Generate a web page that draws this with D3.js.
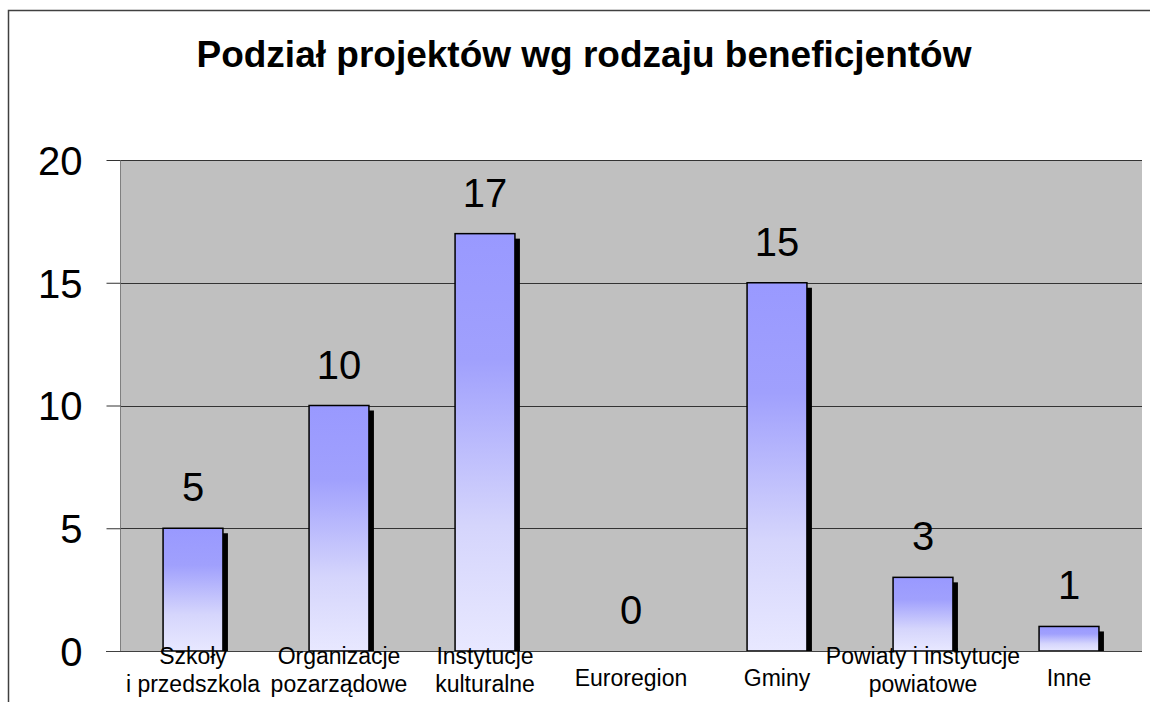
<!DOCTYPE html>
<html>
<head>
<meta charset="utf-8">
<script src="https://cdn.jsdelivr.net/npm/d3@7"></script>
<style>
  body { margin: 0; background: #fff; }
  svg { display: block; font-family: "Liberation Sans", Arial, sans-serif; }
</style>
</head>
<body>
<div id="chart"></div>
<script>
// chart data
var title = "Podział projektów wg rodzaju beneficjentów";
var categories = ["Szkoły\ni przedszkola", "Organizacje\npozarządowe", "Instytucje\nkulturalne",
  "Euroregion", "Gminy", "Powiaty i instytucje\npowiatowe", "Inne"];
var values = [5, 10, 17, 0, 15, 3, 1];
var yTicks = [0, 5, 10, 15, 20];

var data = categories.map((c, i) => ({cat: c, value: values[i]}));

var width = 1150, height = 702;
var margin = ({top: 160, right: 8, bottom: 51, left: 120});

var svg = d3.select("#chart").append("svg")
  .attr("width", width)
  .attr("height", height);

// outer frame (runs off the right and bottom edge)
svg.append("rect")
  .attr("x", 8.5).attr("y", 10.5)
  .attr("width", width).attr("height", height)
  .attr("fill", "none")
  .attr("stroke", "#404040")
  .attr("stroke-width", 1.5);

svg.append("text")
  .attr("x", 584).attr("y", 67)
  .attr("text-anchor", "middle")
  .attr("font-size", 37)
  .attr("font-weight", "bold")
  .text(title);

var x = d3.scaleBand()
  .domain(categories)
  .range([margin.left, width - margin.right])
  .paddingInner(0.59)
  .paddingOuter(0.295);

var y = d3.scaleLinear()
  .domain([0, 20])
  .range([height - margin.bottom, margin.top]);

// gradient for bars
var grad = svg.append("defs").append("linearGradient")
  .attr("id", "barGrad")
  .attr("x1", 0).attr("y1", 0).attr("x2", 0).attr("y2", 1);
grad.append("stop").attr("offset", "0%").attr("stop-color", "#9999ff");
grad.append("stop").attr("offset", "30%").attr("stop-color", "#a0a0fd");
grad.append("stop").attr("offset", "70%").attr("stop-color", "#d5d5fc");
grad.append("stop").attr("offset", "100%").attr("stop-color", "#e8e8ff");

// plot area
svg.append("rect")
  .attr("x", margin.left).attr("y", margin.top)
  .attr("width", width - margin.right - margin.left)
  .attr("height", y(0) - margin.top)
  .attr("fill", "#c0c0c0");

// gridlines
svg.append("g")
  .selectAll("line")
  .data(yTicks.filter(d => d > 0))
  .join("line")
    .attr("x1", margin.left).attr("x2", width - margin.right)
    .attr("y1", d => Math.round(y(d)) + 0.5).attr("y2", d => Math.round(y(d)) + 0.5)
    .attr("stroke", "#333");

// y axis
var yAxis = svg.append("g")
  .attr("transform", `translate(${margin.left + 0.5},0)`)
  .call(d3.axisLeft(y).tickValues(yTicks).tickSize(14).tickPadding(24));
yAxis.select(".domain").attr("stroke", "#808080").attr("d", `M0,${y(20)}V${y(0)}`);
yAxis.selectAll(".tick line").attr("stroke", "#333");
yAxis.selectAll(".tick text")
  .attr("font-size", 40)
  .attr("font-family", "Liberation Sans, Arial, sans-serif")
  .attr("fill", "#000")
  .attr("dy", "0.36em");

// bars
var bar = svg.append("g")
  .selectAll("g")
  .data(data)
  .join("g");

bar.append("rect")
  .attr("fill", "#000")
  .attr("x", d => x(d.cat) + 5)
  .attr("y", d => y(d.value) + 5)
  .attr("width", x.bandwidth())
  .attr("height", d => Math.max(0, y(0) - y(d.value) - 5));

bar.filter(d => d.value > 0).append("rect")
  .attr("fill", "url(#barGrad)")
  .attr("stroke", "#000")
  .attr("stroke-width", 1.5)
  .attr("x", d => x(d.cat))
  .attr("y", d => y(d.value))
  .attr("width", x.bandwidth())
  .attr("height", d => y(0) - y(d.value));

bar.append("text")
  .attr("x", d => x(d.cat) + x.bandwidth() / 2)
  .attr("y", d => y(d.value) - 27)
  .attr("text-anchor", "middle")
  .attr("font-size", 40)
  .text(d => d.value);

// x axis line
svg.append("line")
  .attr("x1", margin.left - 14).attr("x2", width - margin.right)
  .attr("y1", Math.round(y(0)) + 0.5).attr("y2", Math.round(y(0)) + 0.5)
  .attr("stroke", "#404040");

// category labels
svg.append("g")
  .selectAll("text")
  .data(categories)
  .join("text")
    .attr("text-anchor", "middle")
    .attr("font-size", 23)
    .attr("transform", d => `translate(${x(d) + x.bandwidth() / 2},0)`)
    .each(function(d) {
      var lines = d.split("\n");
      var t = d3.select(this);
      lines.forEach((l, j) => {
        t.append("tspan")
          .attr("x", 0)
          .attr("y", lines.length > 1 ? 664 + j * 28 : 686)
          .text(l);
      });
    });
</script>
</body>
</html>
